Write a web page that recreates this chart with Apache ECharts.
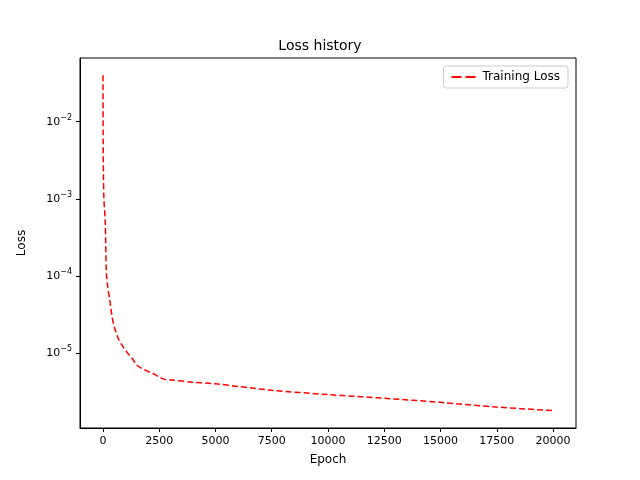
<!DOCTYPE html>
<html style="height: 100%">
<head>
    <meta charset="utf-8">
    <title>Loss history</title>
    <script src="https://cdn.jsdelivr.net/npm/echarts@6/dist/echarts.min.js"></script>
</head>
<body style="height: 100%; margin: 0">
    <div id="main" style="width: 640px; height: 480px"></div>
    <script>
        // values
        var epochs = [0, 10, 20, 40, 60, 100, 150, 200, 300, 400, 500, 700, 900, 1100, 1300, 1500, 1700, 2000, 2300, 2500, 2700, 3000, 4000, 5000, 7500, 10000, 12500, 15000, 17500, 20000];
        var loss = [0.04, 0.005, 0.002, 0.001, 8e-4, 5e-4, 1.1e-4, 7.6e-5, 4.9e-5, 3e-5, 2.2e-5, 1.5e-5, 1.2e-5, 1e-5, 8.5e-6, 7e-6, 6.4e-6, 5.8e-6, 5.3e-6, 4.9e-6, 4.6e-6, 4.5e-6, 4.2e-6, 4.0e-6, 3.3e-6, 2.9e-6, 2.6e-6, 2.3e-6, 2.0e-6, 1.8e-6];
        var xTicks = [0, 2500, 5000, 7500, 10000, 12500, 15000, 17500, 20000];
        var yTicks = [1e-5, 1e-4, 1e-3, 1e-2];

        var chart = echarts.init(document.getElementById('main'));
        var font = 'DejaVu Sans';
        chart.setOption({
            animation: false,
            textStyle: { fontFamily: font },
            title: {
                text: 'Loss history', left: 'center', top: 34,
                textStyle: { fontFamily: font, fontSize: 14, fontWeight: 'normal', color: '#000' }
            },
            legend: {
                right: 72, top: 66, orient: 'vertical',
                borderColor: '#ccc', borderWidth: 1, borderRadius: 3, padding: [5, 8],
                itemWidth: 28, itemHeight: 2,
                textStyle: { fontFamily: font, fontSize: 12, color: '#000' },
                data: [{ name: 'Training Loss', icon: 'path://M0,0H10V2H0Z M14,0H24V2H14Z' }]
            },
            grid: { left: 80, right: 64, top: 58, bottom: 52, show: true, borderColor: '#000', borderWidth: 1 },
            xAxis: {
                type: 'value', min: -1022, max: 21022,
                name: 'Epoch', nameLocation: 'middle', nameGap: 26,
                nameTextStyle: { fontSize: 12, color: '#000' },
                splitLine: { show: false },
                axisLine: { onZero: false, lineStyle: { color: '#000' } },
                axisTick: { show: true, customValues: xTicks, length: 4, lineStyle: { color: '#000' } },
                axisLabel: { customValues: xTicks, fontSize: 11, color: '#000', formatter: function (v) { return String(v); } }
            },
            yAxis: {
                type: 'log', logBase: 10, min: 1.07e-6, max: 0.067,
                name: 'Loss', nameLocation: 'middle', nameGap: 52,
                nameTextStyle: { fontSize: 12, color: '#000' },
                splitLine: { show: false },
                axisLine: { show: true, onZero: false, lineStyle: { color: '#000' } },
                axisTick: { show: true, customValues: yTicks, length: 4, lineStyle: { color: '#000' } },
                axisLabel: {
                    customValues: yTicks,
                    color: '#000', fontSize: 11,
                    formatter: function (v) {
                        return '10{s|\u2212' + Math.round(-Math.log10(v)) + '}';
                    },
                    rich: { s: { fontSize: 8, verticalAlign: 'top', padding: [0, 0, 8, 0], color: '#000' } }
                }
            },
            series: [{
                name: 'Training Loss', type: 'line', symbol: 'none', smooth: 0.3,
                lineStyle: { color: '#ff0000', type: [6, 3], width: 1.5 },
                itemStyle: { color: '#ff0000' },
                data: epochs.map(function (e, i) { return [e, loss[i]]; })
            }]
        });
    </script>
</body>
</html>
